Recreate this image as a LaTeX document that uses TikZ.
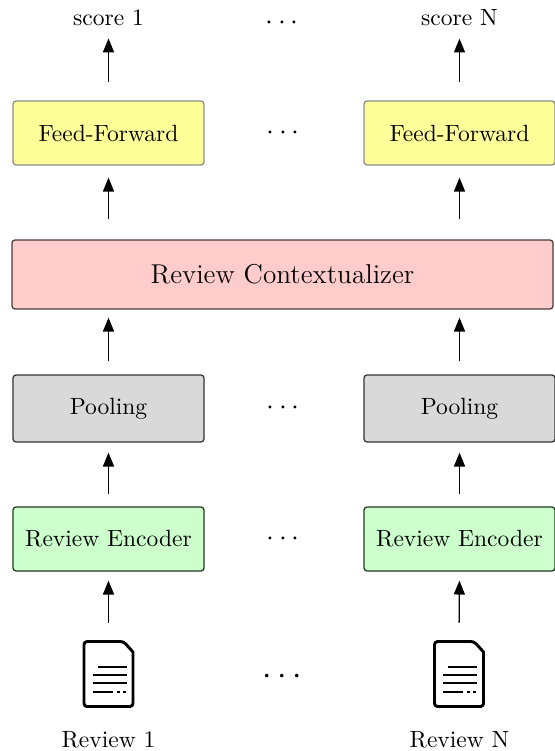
\documentclass[tikz,border=0pt]{standalone}
\usepackage{fontspec}
\usetikzlibrary{arrows.meta}
\definecolor{ffyellow}{HTML}{FFFF99}
\definecolor{ctxpink}{HTML}{FFCCCC}
\definecolor{poolgray}{HTML}{D9D9D9}
\definecolor{encgreen}{HTML}{CCFFCC}
\definecolor{ffborder}{HTML}{8C8C8C}
\definecolor{ctxborder}{HTML}{4A3A3A}
\definecolor{poolborder}{HTML}{333333}
\definecolor{encborder}{HTML}{1F3A1F}
\def\pxu{0.4255pt}
\tikzset{
  box/.style={rectangle, rounded corners=1.3pt, line width=0.55pt, inner sep=0pt,
    minimum width=191*\pxu, font=\normalsize},
  ffbox/.style={box, draw=ffborder, fill=ffyellow, minimum height=64*\pxu},
  ctxbox/.style={box, draw=ctxborder, fill=ctxpink, minimum width=541*\pxu, minimum height=69*\pxu, font=\fontsize{11.6}{14}\selectfont},
  poolbox/.style={box, draw=poolborder, fill=poolgray, minimum height=67*\pxu},
  encbox/.style={box, draw=encborder, fill=encgreen, minimum height=64*\pxu},
  lbl/.style={inner sep=0pt, font=\normalsize},
  dotsnode/.style={inner sep=0pt, font=\large},
  bigdots/.style={inner sep=0pt, font=\Large},
  docnode/.style={rectangle, inner sep=0pt, minimum width=52*\pxu, minimum height=68*\pxu},
  arr/.style={line width=0.55pt, -{Triangle[length=5.9pt,width=4.7pt]}},
  docline/.style={line width=1.2pt},
}
\newcommand\docicon[1]{%
  \begin{scope}[shift={(#1)}]
    \draw[line width=1.25pt, rounded corners=1.3pt, line join=round]
      (-24.5,-32.5) -- (15,-32.5) [sharp corners] -- (24.5,-22) [rounded corners=1.3pt] -- (24.5,32.5) -- (-24.5,32.5) -- cycle;
    \draw[docline] (-11,-7) -- (18,-7);
    \draw[docline] (-16,1) -- (18,1);
    \draw[docline] (-16,9) -- (18,9);
    \draw[docline] (-16,18) -- (4,18);
    \draw[docline] (8,18) -- (11,18);
    \draw[docline] (14,18) -- (17,18);
  \end{scope}}
\begin{document}
\begin{tikzpicture}[x=0.4255pt,y=-0.4255pt]
  \useasboundingbox (0,0) rectangle (555,751);
  % labels top
  \node[lbl] (s1) at (108.5,18) {score 1};
  \node[lbl] (sN) at (459.5,18) {score N};
  \node[dotsnode] (d0) at (282,23) {$\cdots$};
  % feed-forward
  \node[ffbox] (ff1) at (108.5,133) {Feed-Forward};
  \node[ffbox] (ffN) at (459.5,133) {Feed-Forward};
  \node[dotsnode] (d1) at (283,133) {$\cdots$};
  % contextualizer
  \node[ctxbox] (ctx) at (282.5,274.5) {Review Contextualizer};
  % pooling
  \node[poolbox] (p1) at (108.5,408.5) {Pooling};
  \node[poolbox] (pN) at (459.5,408.5) {Pooling};
  \node[dotsnode] (d2) at (283,408) {$\cdots$};
  % encoder
  \node[encbox] (e1) at (108.5,539) {Review Encoder};
  \node[encbox] (eN) at (459.5,539) {Review Encoder};
  \node[dotsnode] (d3) at (283,539) {$\cdots$};
  % documents
  \node[docnode] (doc1) at (108.5,674) {};
  \node[docnode] (docN) at (459,674) {};
  \docicon{doc1.center}
  \docicon{docN.center}
  \node[bigdots] (d4) at (282,677) {$\cdots$};
  \node[lbl] (r1) at (108.5,740) {Review 1};
  \node[lbl] (rN) at (459.5,740) {Review N};
  % arrows
  \draw[arr, shorten <=18*\pxu, shorten >=12*\pxu] (ff1.north) -- (s1.south);
  \draw[arr, shorten <=18*\pxu, shorten >=12*\pxu] (ffN.north) -- (sN.south);
  \draw[arr, shorten <=20*\pxu, shorten >=12*\pxu] (ctx.north -| ff1) -- (ff1.south);
  \draw[arr, shorten <=20*\pxu, shorten >=12*\pxu] (ctx.north -| ffN) -- (ffN.south);
  \draw[arr, shorten <=13*\pxu, shorten >=8*\pxu] (p1.north) -- (ctx.south -| p1);
  \draw[arr, shorten <=13*\pxu, shorten >=8*\pxu] (pN.north) -- (ctx.south -| pN);
  \draw[arr, shorten <=12*\pxu, shorten >=10*\pxu] (e1.north) -- (p1.south);
  \draw[arr, shorten <=12*\pxu, shorten >=10*\pxu] (eN.north) -- (pN.south);
  \draw[arr, shorten <=17*\pxu, shorten >=9*\pxu] (doc1.north) -- (e1.south);
  \draw[arr, shorten <=17*\pxu, shorten >=9*\pxu] (docN.north) -- (eN.south);
\end{tikzpicture}
\end{document}
